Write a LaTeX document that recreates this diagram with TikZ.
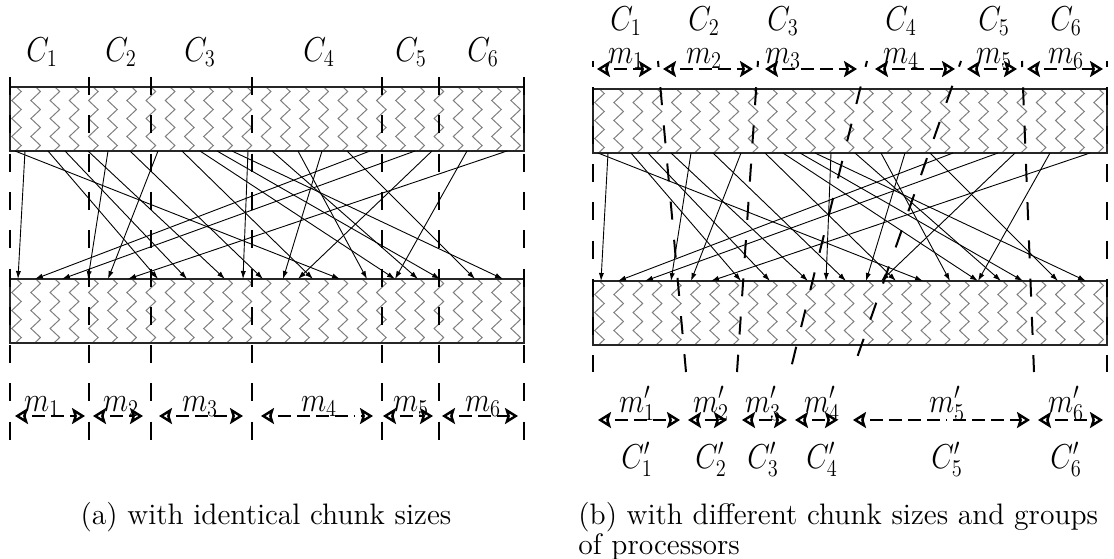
\documentclass[tikz,border=0pt]{standalone}
\usepackage{graphicx}
\usepackage{tikz}
\usetikzlibrary{arrows.meta, positioning, calc, decorations.pathmorphing}

\definecolor{zzgray}{HTML}{7F7F7F}

% narrow label text, as in the scanned figure
\newcommand{\nrw}[1]{\scalebox{0.85}[1]{#1}}

% one panel: two zigzag bands and the moves between them
\newcommand{\panelbody}[1]{%
  \foreach \yy in {0,192} {
    \begin{scope}
      \clip (0,\yy) rectangle (514,\yy+64);
      \foreach \k in {0,...,26}
        \draw[zz] (6.5+19.2*\k,\yy-18) -- (6.5+19.2*\k,\yy+82);
    \end{scope}
  }
  \draw[band] (0,0) rectangle (514,64);
  \draw[band] (0,192) rectangle (514,256);
  \foreach \s/\t [count=\i] in {15/8, 5/330, 38/148, 55/177, 78/215, 98/78,
      120/253, 148/98, 172/303, 190/385, 207/430, 222/493, 238/233, 262/408,
      288/357, 312/273, 337/465, 360/25, 405/52, 422/288, 457/385, 497/118} {
    \coordinate (#1s\i) at (\s,64);
    \coordinate (#1t\i) at (\t,192);
    \draw[move] (#1s\i) -- (#1t\i);
  }
}

\begin{document}
\begin{tikzpicture}[x=0.5pt, y=-0.5pt,
  band/.style={draw=black!85, line width=0.6pt},
  zz/.style={draw=zzgray, line width=0.5pt, decorate,
    decoration={zigzag, segment length=9pt, amplitude=2.4pt}},
  move/.style={line width=0.45pt, -{Latex[length=4pt,width=2.6pt]}},
  chunkline/.style={line width=1pt, dash pattern=on 9pt off 10.15pt},
  grp/.style={line width=1pt,
    dash pattern=on 0.5pt off 3pt on 6.5pt off 3pt on 6.5pt off 3pt on 6.5pt off 3pt on 6.5pt off 3pt,
    {Stealth[open,length=6.5pt,width=8pt,inset=1.2pt,line width=1.2pt]}-{Stealth[open,length=6.5pt,width=8pt,inset=1.2pt,line width=1.2pt]}},
  lab/.style={font=\fontsize{17.5}{20}\selectfont, anchor=base, inner sep=0pt},
  capt/.style={font=\fontsize{14.8}{13.8}\selectfont, inner sep=0pt}]
  \useasboundingbox (0,0) rectangle (1114,558);

  % (a) identical chunk sizes
  \begin{scope}[shift={(10,87)}]
    \panelbody{a}
  \end{scope}
  \foreach \x [count=\i] in {10,89,151,252,382,439,524} {
    \coordinate (aup\i) at (\x,77);
    \coordinate (alo\i) at (\x,440);
    \draw[chunkline] (aup\i) -- (alo\i);
  }
  \foreach \l/\r [count=\i] in {15/85, 93/143, 159/243, 261/373, 383/433, 442/518} {
    \coordinate (aml\i) at (\l,416);
    \coordinate (amr\i) at (\r,416);
    \draw[grp] (aml\i) -- (amr\i);
  }
  \foreach \x [count=\i] in {42,121,200,319,411,483} {
    \node[lab] (aC\i) at (\x,61) {\nrw{$C_{\i}$}};
    \node[lab] (am\i) at (\x,411) {\nrw{$m_{\i}$}};
  }

  % (b) different chunk sizes, groups of processors
  \begin{scope}[shift={(593,89)}]
    \panelbody{b}
  \end{scope}
  \foreach \p/\q [count=\i] in {593/593, 658/686, 758/737, 867/790, 961/852,
      1022/1034, 1107/1107} {
    \coordinate (bup\i) at (\p,61);
    \coordinate (blo\i) at (\q,372);
    \draw[chunkline, dash phase=6pt] (bup\i) -- (blo\i);
  }
  \foreach \l/\r [count=\i] in {597/652, 663/753, 765/857, 875/955, 967/1017, 1027/1103} {
    \coordinate (bml\i) at (\l,69);
    \coordinate (bmr\i) at (\r,69);
    \draw[grp] (bml\i) -- (bmr\i);
  }
  \foreach \l/\r [count=\i] in {598/680, 688/727, 742/787, 795/838, 853/1030, 1038/1103} {
    \coordinate (bnl\i) at (\l,420);
    \coordinate (bnr\i) at (\r,420);
    \draw[grp] (bnl\i) -- (bnr\i);
  }
  \foreach \x [count=\i] in {626,704,783,901,994,1066} {
    \node[lab] (bC\i) at (\x,30) {\nrw{$C_{\i}$}};
    \node[lab] (bm\i) at (\x,63) {\nrw{$m_{\i}$}};
  }
  \foreach \x [count=\i] in {637,711,763,822,947,1066} {
    \node[lab] (bmp\i) at (\x,412) {\nrw{$m'_{\i}$}};
    \node[lab] (bCp\i) at (\x,468) {\nrw{$C'_{\i}$}};
  }

  % captions
  \node[capt, anchor=base] (capa) at (266,524) {(a) with identical chunk sizes};
  \node[capt, anchor=north west, align=left] (capb) at (578,502)
    {(b) with different chunk sizes and groups\\of processors};
\end{tikzpicture}
\end{document}
